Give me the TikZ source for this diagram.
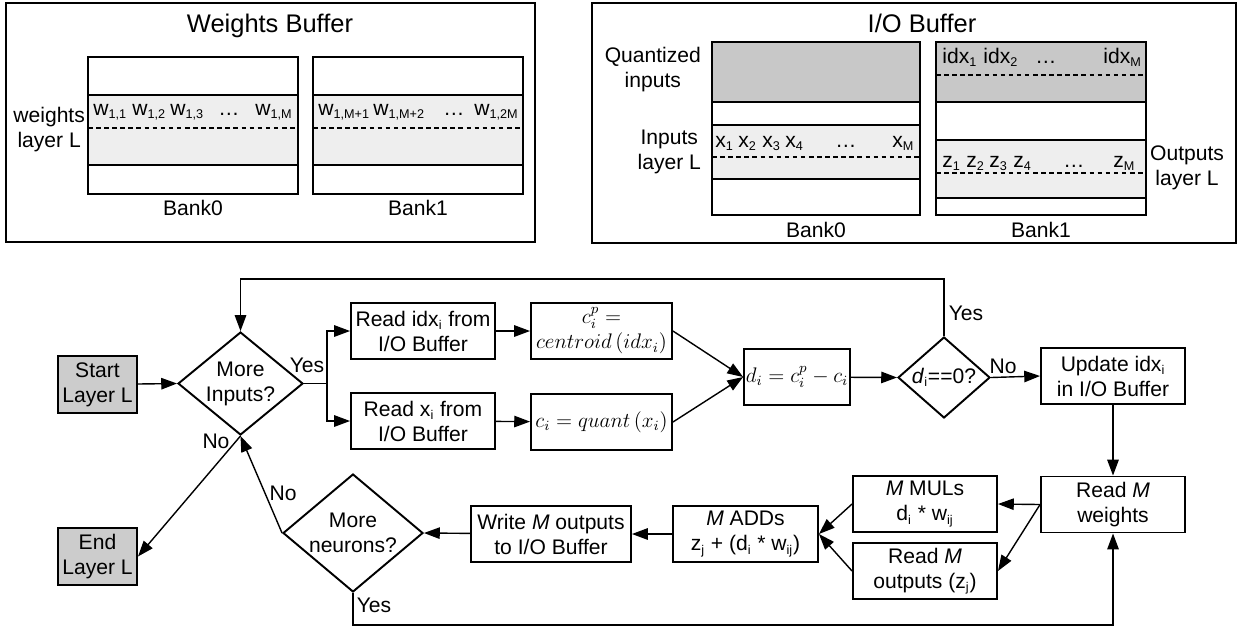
\documentclass[tikz,border=0pt]{standalone}
\usepackage{fontspec}
\setmainfont{Liberation Sans}
\usetikzlibrary{arrows.meta,shapes.geometric}
\definecolor{QuantGray}{RGB}{200,200,200}
\definecolor{LayerGray}{RGB}{238,238,238}
\definecolor{TermGray}{RGB}{204,204,204}
\newcommand{\BufFont}{\fontsize{12}{14.2}\selectfont}
\newcommand{\Sub}[1]{\textsubscript{\fontsize{7.2}{8}\selectfont #1}}

\begin{document}
\begin{tikzpicture}[>={Triangle[length=9pt,width=6.5pt]},x=0.02cm,y=-0.02cm,
		bufline/.style={line width=1.1pt},
		rowdash/.style={line width=1.1pt,dash pattern=on 2.6pt off 2pt},
		buftitle/.style={font=\fontsize{14.5}{17}\selectfont,inner sep=0pt,anchor=base},
		buflabel/.style={font=\BufFont,align=center,inner sep=1pt},
		cell/.style={font=\BufFont,inner sep=0pt,anchor=base west},
		flowbox/.style={draw,line width=1.1pt,fill=white,align=center,inner sep=1pt,
			minimum width=2.88cm,minimum height=1.12cm,font=\BufFont},
		termbox/.style={flowbox,fill=TermGray,minimum width=1.58cm,minimum height=1.14cm},
		decision/.style={draw,diamond,line width=1.1pt,align=center,inner sep=0pt,font=\BufFont},
		flowline/.style={->,line width=0.8pt},
		branch/.style={font=\BufFont,inner sep=1pt}]

	\useasboundingbox (0,0) rectangle (1243,627);

	% weights buffer
	\draw[bufline] (6,3) rectangle (535,242);
	\node[buftitle] (wtitle) at (270,32) {Weights Buffer};
	\foreach \bx/\bn in {88/0,313/1} {
		\fill[LayerGray] (\bx,95) rectangle ++(210,70);
		\draw[bufline] (\bx,57) rectangle ++(210,137);
		\draw[bufline] (\bx,95) -- ++(210,0) (\bx,165) -- ++(210,0);
		\draw[rowdash] (\bx,128) -- ++(210,0);
		\node[buflabel,anchor=base] (wbank\bn) at (\bx+105,215) {Bank\bn};
	}
	\node[buflabel,anchor=east] (wlayer) at (87,130) {weights\\layer L};
	\foreach \cx/\ct [count=\ci] in {93/{w\Sub{1,1}},132/{w\Sub{1,2}},
			170/{w\Sub{1,3}},218/{…},255/{w\Sub{1,M}},
			318/{w\Sub{1,M+1}},373/{w\Sub{1,M+2}},443/{…},
			474/{w\Sub{1,2M}}}
		\node[cell] (wcell\ci) at (\cx,115) {\ct};

	% I/O buffer
	\draw[bufline] (592,3) rectangle (1236,243);
	\node[buftitle] (iotitle) at (922,32) {I/O Buffer};
	\fill[QuantGray] (712,42) rectangle (920,102);
	\fill[LayerGray] (712,125) rectangle (920,179);
	\draw[bufline] (712,42) rectangle (920,215);
	\draw[bufline] (712,102) -- (920,102) (712,125) -- (920,125) (712,179) -- (920,179);
	\draw[rowdash] (712,157) -- (920,157);
	\fill[QuantGray] (936,42) rectangle (1146,102);
	\fill[LayerGray] (936,140) rectangle (1146,198);
	\draw[bufline] (936,42) rectangle (1146,215);
	\draw[bufline] (936,102) -- (1146,102) (936,140) -- (1146,140) (936,198) -- (1146,198);
	\draw[rowdash] (936,75) -- (1146,75) (936,173) -- (1146,173);
	\node[buflabel,anchor=base] (iobank0) at (816,237) {Bank0};
	\node[buflabel,anchor=base] (iobank1) at (1041,237) {Bank1};
	\node[buflabel,anchor=east] (quantlbl) at (703,70) {Quantized\\inputs};
	\node[buflabel,anchor=east] (inlbl) at (703,152) {Inputs\\layer L};
	\node[buflabel,anchor=west] (outlbl) at (1148,168) {Outputs\\layer L};
	\foreach \cx/\ct [count=\ci] in {715/{x\Sub{1}},738/{x\Sub{2}},
			762/{x\Sub{3}},785/{x\Sub{4}},835/{…},892/{x\Sub{M}}}
		\node[cell] (xcell\ci) at (\cx,147) {\ct};
	\foreach \cx/\ct [count=\ci] in {942/{idx\Sub{1}},983/{idx\Sub{2}},
			1035/{…},1103/{idx\Sub{M}}}
		\node[cell] (idxcell\ci) at (\cx,63) {\ct};
	\foreach \cx/\ct [count=\ci] in {942/{z\Sub{1}},966/{z\Sub{2}},
			989/{z\Sub{3}},1013/{z\Sub{4}},1063/{…},1113/{z\Sub{M}}}
		\node[cell] (zcell\ci) at (\cx,167) {\ct};

	% flow chart
	\node[termbox] (start) at (97.5,384.5) {Start\\Layer L};
	\node[termbox] (finish) at (97.5,556.5) {End\\Layer L};
	\node[decision,aspect=1.21,minimum width=2.5cm,minimum height=2.06cm] (moreinp)
		at (240.5,383.5) {More\\Inputs?};
	\node[flowbox] (readidx) at (423,331) {Read idx\Sub{i} from\\I/O Buffer};
	\node[flowbox] (readx) at (423,421) {Read x\Sub{i} from\\I/O Buffer};
	\node[flowbox,minimum width=2.82cm] (cent) at (601.5,331)
		{$c_i^p=$\\$\mathnormal{centroid}\left(\mathnormal{idx}_i\right)$};
	\node[flowbox,minimum width=2.82cm] (quant) at (601.5,422)
		{$c_i=\mathnormal{quant}\left(x_i\right)$};
	\node[flowbox,minimum width=1.92cm] (diff) at (797,377) {$d_i=c_i^p-c_i$};
	\node[decision,aspect=1.14,minimum width=1.84cm,minimum height=1.62cm] (iszero)
		at (944,377.5) {\textit{d}\Sub{i}==0?};
	\node[flowbox] (update) at (1113,376) {Update idx\Sub{i}\\in I/O Buffer};
	\node[flowbox] (readw) at (1113,504.5) {Read \textit{M}\\weights};
	\node[flowbox] (mul) at (925,504) {\textit{M} MULs\\d\Sub{i} * w\Sub{ij}};
	\node[flowbox] (readz) at (925,571) {Read \textit{M}\\outputs (z\Sub{j})};
	\node[flowbox,minimum width=2.9cm] (add) at (745.5,534)
		{\textit{M} ADDs\\z\Sub{j} + (d\Sub{i} * w\Sub{ij})};
	\node[flowbox,minimum width=3.2cm] (write) at (551,534) {Write \textit{M} outputs\\to I/O Buffer};
	\node[decision,aspect=1.19,minimum width=2.8cm,minimum height=2.36cm] (moreneu)
		at (353,533) {More\\neurons?};

	\coordinate (fork) at (327,383.5);
	\draw[flowline] (start) -- (moreinp.west);
	\draw[line width=0.8pt] (moreinp.east) -- (fork);
	\draw[flowline] (fork) |- (readidx.west);
	\draw[flowline] (fork) |- (readx.west);
	\draw[flowline] (readidx) -- (cent);
	\draw[flowline] (readx) -- (quant);
	\draw[flowline] (cent.east) -- (diff.west);
	\draw[flowline] (quant.east) -- (diff.west);
	\draw[flowline] (diff) -- (iszero.west);
	\draw[flowline] (iszero.north) -- ++(0,-57) -| (moreinp.north);
	\draw[flowline] (iszero.east) -- (update.west);
	\draw[flowline] (update) -- (readw);
	\draw[flowline] (readw.west) -- (mul.east);
	\draw[flowline] (readw.west) -- (readz.east);
	\draw[flowline] (mul.west) -- (add.east);
	\draw[flowline] (readz.west) -- (add.east);
	\draw[flowline] (add) -- (write);
	\draw[flowline] (write) -- (moreneu.east);
	\draw[flowline] (moreneu.west) -- (moreinp.south);
	\draw[flowline] (moreinp.south) -- (finish.east);
	\draw[flowline] (moreneu.south) -- ++(0,32) -| (readw.south);

	\node[branch] (yesinp) at (307,365) {Yes};
	\node[branch] (noinp) at (216,441) {No};
	\node[branch] (noneu) at (283,493) {No};
	\node[branch] (yesneu) at (374,605) {Yes};
	\node[branch] (yeszero) at (966,313) {Yes};
	\node[branch] (nozero) at (1003,366) {No};
\end{tikzpicture}
\end{document}
